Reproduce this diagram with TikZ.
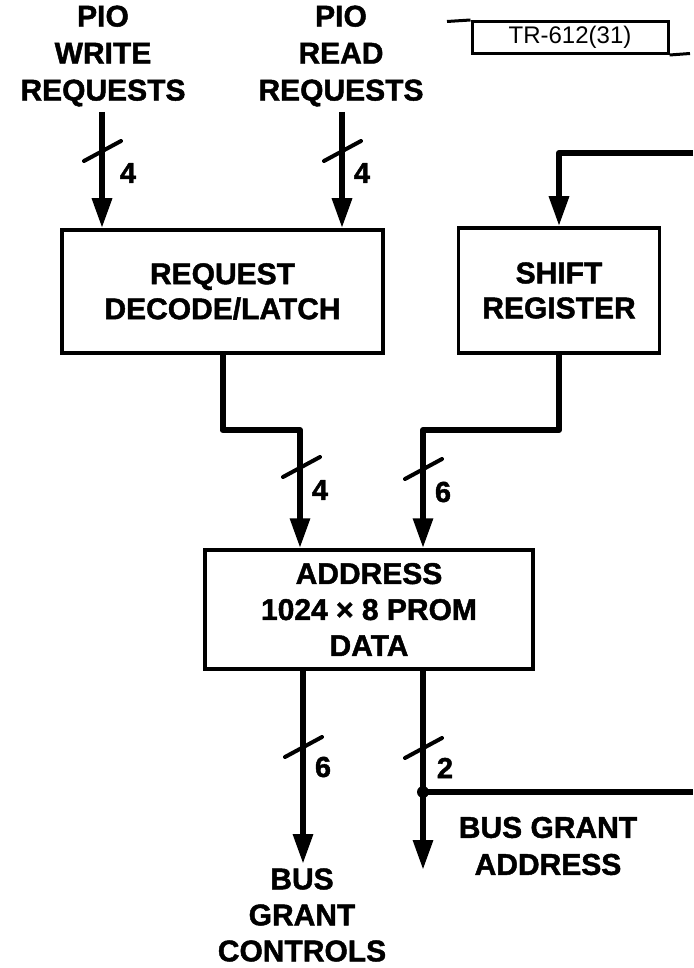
\documentclass[tikz,border=0pt]{standalone}
\usepackage{fontspec}
\setmainfont{Liberation Sans}[BoldFeatures={FakeBold=1.5}]
\usetikzlibrary{arrows.meta,calc}
\tikzset{
  lbl/.style={font=\fontsize{30}{37}\selectfont\bfseries, align=center, inner sep=0pt},
  boxtxt/.style={draw, line width=3.5pt, font=\fontsize{30}{35}\selectfont\bfseries, align=center, inner sep=0pt},
  conn/.style={line width=6pt, line join=round, -{Triangle[length=30pt,width=19pt]}},
  plainconn/.style={line width=6pt, line join=round},
  slashline/.style={line width=4pt, line cap=round},
  num/.style={font=\fontsize{29}{29}\selectfont\bfseries, inner sep=0pt},
  thin/.style={line width=3pt}
}
\begin{document}
\begin{tikzpicture}[x=1pt,y=-1pt]
\useasboundingbox (0,0) rectangle (693,968);

% title block
\coordinate (tba) at (447,21.5);
\coordinate (tbb) at (690,53.5);
\node[thin, draw, minimum width=196pt, minimum height=32pt, inner sep=0pt,
      font=\fontsize{24}{24}\selectfont] (tr) at (570,37.5) {TR-612(31)};
\draw[thin] (tba) -- (tr.north west);
\draw[thin] (tr.south east) -- (tbb);

% input labels
\node[lbl] (pw) at (103,56) {PIO\\WRITE\\REQUESTS};
\node[lbl] (pr) at (341,56) {PIO\\READ\\REQUESTS};

% boxes
\node[boxtxt, minimum width=321pt, minimum height=123pt] (dec) at (222.5,291.5) {REQUEST\\DECODE/LATCH};
\node[boxtxt, minimum width=201pt, minimum height=125pt] (sr) at (559,290.5) {SHIFT\\REGISTER};
\node[boxtxt, minimum width=328pt, minimum height=119pt, font=\fontsize{30}{36}\selectfont\bfseries] (prom) at (369,609.5) {ADDRESS\\1024 × 8 PROM\\DATA};

% input connectors
\coordinate (inw) at (102,112);
\coordinate (inr) at (342,112);
\draw[conn] (inw) -- (inw |- dec.north);
\draw[conn] (inr) -- (inr |- dec.north);

\coordinate (tin) at (693,153);
\draw[conn] (tin) -| (sr.north);

% decode -> prom
\coordinate (pa) at (300,430);
\coordinate (pb) at (423,430);
\draw[conn] (dec.south) |- (pa) -- (pa |- prom.north);
\draw[conn] (sr.south) |- (pb) -- (pb |- prom.north);

% prom outputs
\coordinate (oa) at (303,669);
\coordinate (oae) at (303,864);
\coordinate (ob) at (423,669);
\coordinate (junc) at (423,792);
\coordinate (obe) at (423,870);
\coordinate (oright) at (693,792);
\draw[conn] (oa) -- (oae);
\draw[conn] (ob) -- (obe);
\draw[plainconn] (junc) -- (oright);
\fill (junc) circle (6pt);

% slashes
\foreach \n/\p in {s1/{102,151}, s2/{342,151}, s3/{301,467}, s4/{423,469}, s5/{303,747}, s6/{423,748}}{
  \coordinate (\n) at (\p);
  \draw[slashline] ([shift={(-18,10)}]\n) -- ([shift={(19,-10)}]\n);
}

% bus width labels
\node[num] (n1) at (128,173) {4};
\node[num] (n2) at (362,173) {4};
\node[num] (n3) at (320,490) {4};
\node[num] (n4) at (443,492) {6};
\node[num] (n5) at (323,767) {6};
\node[num] (n6) at (445,768) {2};

% output labels
\node[lbl] (bga) at (548,846) {BUS GRANT\\ADDRESS};
\node[lbl, font=\fontsize{30}{36}\selectfont\bfseries] (bgc) at (302,915) {BUS\\GRANT\\CONTROLS};
\end{tikzpicture}
\end{document}
